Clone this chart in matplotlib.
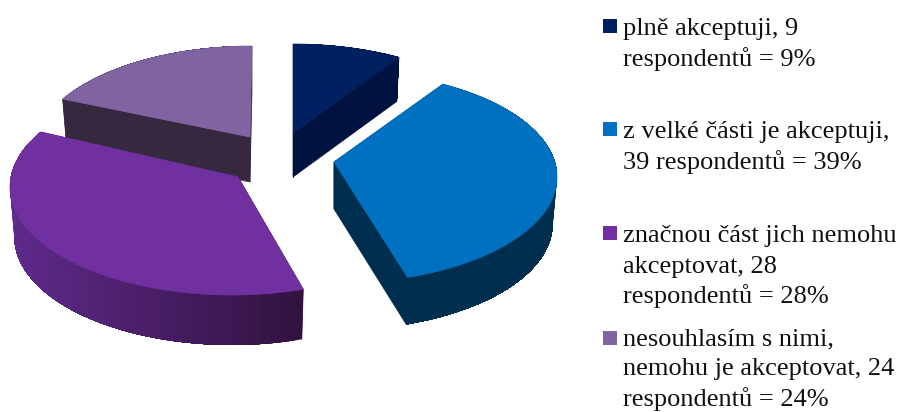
import numpy as np
import matplotlib
matplotlib.use('Agg')
import matplotlib.pyplot as plt
from matplotlib.colors import to_rgb
from matplotlib.patches import Polygon, Rectangle

# slice sizes as they look in the picture (the legend text says something else)
shares = [8.0, 36.8, 38.7, 16.5]
legend_lines = [
    ['plně akceptuji, 9', 'respondentů = 9%'],
    ['z velké části je akceptuji,', '39 respondentů = 39%'],
    ['značnou část jich nemohu', 'akceptovat, 28', 'respondentů = 28%'],
    ['nesouhlasím s nimi,', 'nemohu je akceptovat, 24', 'respondentů = 24%'],
]
top_colors = ['#002060', '#0070C0', '#7030A0', '#8064A2']
legend_colors = ['#002060', '#0070C0', '#7030A0', '#8064A2']
wall_left = ['#00123F', '#002E4E', '#5F2A8C', '#35283F']
wall_right = ['#00123F', '#002E4E', '#32123F', '#35283F']

# layout of every exploded slice in pixels: tip, ellipse centre, radii, depth
tips = [(293, 133), (334, 162), (238, 177), (250, 137)]
centres = [(293, 152), (337, 177), (232, 187), (252, 154)]
radius_x = [220, 220, 222, 220]
radius_y = [108, 106, 108, 108]
depths = [44, 47, 50, 45]
legend_box_y = [19, 122, 226, 331]
legend_base_y = [[35, 66], [138, 169], [242, 273, 303], [345, 375, 406]]


def arc(i, t, shrink=1.0):
    x = centres[i][0] + radius_x[i] * shrink * np.sin(t)
    y = centres[i][1] - radius_y[i] * np.cos(t)
    return x, y


def draw_slice(ax, i, t0, t1):
    t = np.linspace(t0, t1, 120)
    x, y = arc(i, t)
    xb, yb = arc(i, t, 0.98)
    yb = yb + depths[i]
    tip = tips[i]
    tip_low = (tip[0], tip[1] + depths[i])

    # cut walls first, they sit behind the rim
    first = [tip, (x[0], y[0]), (xb[0], yb[0]), tip_low]
    last = [tip, (x[-1], y[-1]), (xb[-1], yb[-1]), tip_low]
    ax.add_patch(Polygon(first, fc=wall_right[i], ec=wall_right[i], lw=0.5))
    ax.add_patch(Polygon(last, fc=wall_left[i], ec=wall_left[i], lw=0.5))

    # rim: every strip runs on to the end of the arc and the next one paints
    # over it, that way there are no seams between the strips
    c_l = np.array(to_rgb(wall_left[i]))
    c_r = np.array(to_rgb(wall_right[i]))
    x_lo, x_hi = x.min(), x.max()
    for k in range(len(t) - 1):
        f = (x[k] - x_lo) / max(x_hi - x_lo, 1)
        col = c_l + (c_r - c_l) * f
        band = list(zip(x[k:], y[k:])) + list(zip(xb[k:][::-1], yb[k:][::-1]))
        ax.add_patch(Polygon(band, fc=col, ec='none', lw=0))

    top = [tip] + list(zip(x, y))
    ax.add_patch(Polygon(top, fc=top_colors[i], ec=top_colors[i], lw=0.5))


fig = plt.figure(figsize=(9, 4.12), dpi=100)
ax = fig.add_axes([0, 0, 1, 1])
ax.set_xlim(0, 900)
ax.set_ylim(412, 0)
ax.axis('off')

edges = np.radians(np.cumsum([0] + shares) * 3.6)
# back slices first so the front ones cover them
for i in [3, 0, 2, 1]:
    draw_slice(ax, i, edges[i], edges[i + 1])

for i, lines in enumerate(legend_lines):
    ax.add_patch(Rectangle((603, legend_box_y[i]), 14, 14, fc=legend_colors[i], ec='none'))
    for line, base in zip(lines, legend_base_y[i]):
        ax.text(623, base, line, family='Liberation Serif', fontsize=19,
                color='#111111', ha='left', va='baseline')

fig.savefig('out.png', dpi=100)
